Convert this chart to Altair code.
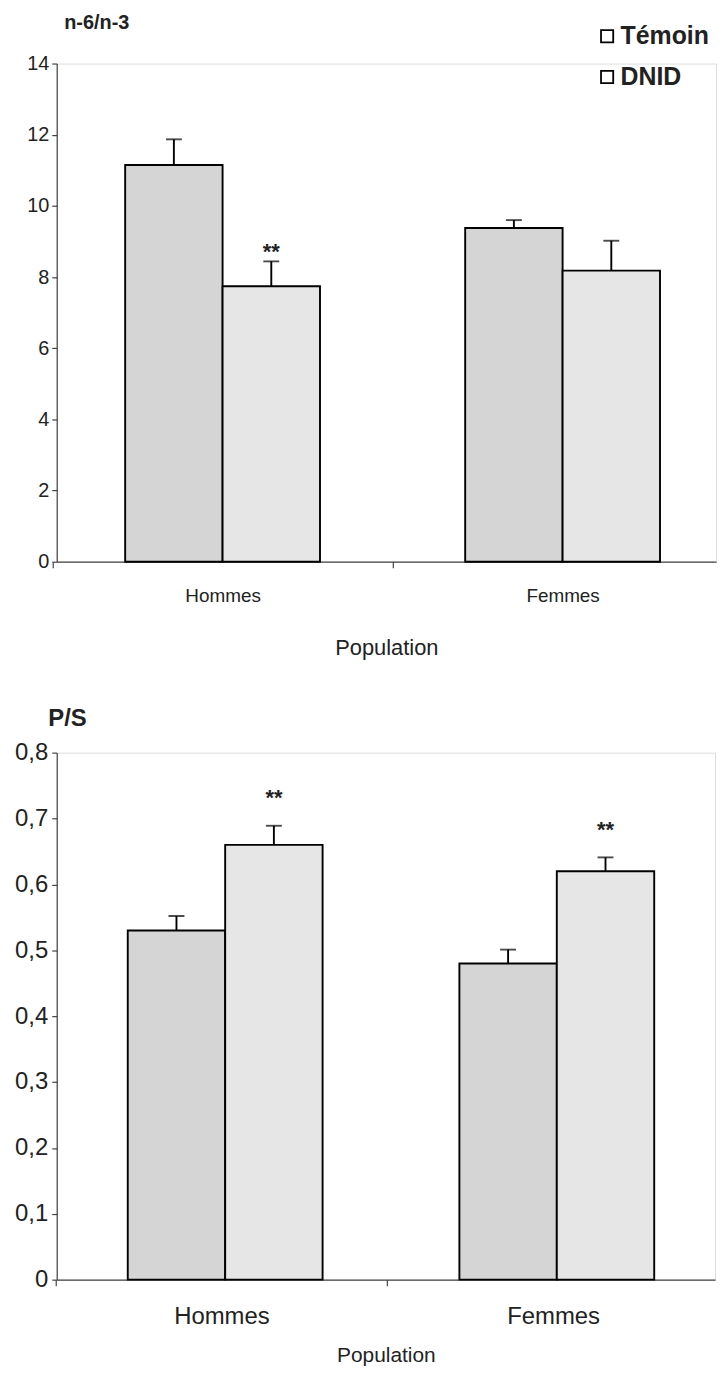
import altair as alt
import pandas as pd

populations = ["Hommes", "Femmes"]
groups = ["Témoin", "DNID"]

# n-6/n-3 ratio
n6n3_temoin = [11.15, 9.38]
n6n3_dnid = [7.74, 8.18]
n6n3_err_temoin = [0.72, 0.22]
n6n3_err_dnid = [0.70, 0.84]
n6n3_stars_dnid = ["**", ""]

# P/S ratio
ps_temoin = [0.53, 0.48]
ps_dnid = [0.66, 0.62]
ps_err_temoin = [0.022, 0.021]
ps_err_dnid = [0.029, 0.021]
ps_stars_dnid = ["**", "**"]

FONT = "Liberation Sans"
COLORS = ["#d5d5d5", "#e6e6e6"]


def make_df(t, d, et, ed, stars):
    rows = []
    for i, p in enumerate(populations):
        rows.append({"Population": p, "Groupe": "Témoin", "serie": "Témoin",
                     "mean": t[i], "hi": t[i] + et[i], "star": ""})
        rows.append({"Population": p, "Groupe": "DNID", "serie": "DNID",
                     "mean": d[i], "hi": d[i] + ed[i], "star": stars[i]})
    return pd.DataFrame(rows)


def panel(df, width, height, ymax, ystep, title, title_x, title_y, title_size,
          ylab_size, xlab_size, label_expr, star_dy, show_legend, cap_w,
          p_inner, p_outer, align, xlab_pad, xtitle_size, xtitle_pad, ylab_pad):
    step = width / (2 - p_inner + 2 * p_outer)
    x = alt.X(
        "Population:N", sort=populations,
        scale=alt.Scale(paddingInner=p_inner, paddingOuter=p_outer, align=align),
        axis=alt.Axis(title="Population", labelAngle=0, labelFontSize=xlab_size,
                      labelFont=FONT, labelColor="#222", labelPadding=xlab_pad,
                      titleFont=FONT, titleFontSize=xtitle_size, titleFontWeight="normal",
                      titleColor="#222", titlePadding=xtitle_pad,
                      tickOffset=-step / 2.0, labelOffset=step / 2.0,
                      tickSize=6, tickColor="#444", domainColor="#444",
                      domainWidth=1.2, tickWidth=1.2),
    )
    xo = alt.XOffset("Groupe:N", sort=groups, scale=alt.Scale(paddingInner=0))
    y = alt.Y(
        "mean:Q",
        scale=alt.Scale(domain=[0, ymax], nice=False, zero=True),
        axis=alt.Axis(title=title, titleAngle=0, titleAlign="left",
                      titleBaseline="middle", titleX=title_x, titleY=title_y,
                      titleFont=FONT, titleFontSize=title_size, titleFontWeight="bold",
                      titleColor="#222",
                      values=[round(i * ystep, 3) for i in range(int(round(ymax / ystep)) + 1)],
                      labelExpr=label_expr, labelFont=FONT, labelFontSize=ylab_size,
                      labelColor="#222", labelPadding=ylab_pad,
                      tickSize=5, tickColor="#444", domainColor="#444",
                      domainWidth=1.2, tickWidth=1.2, grid=False),
    )
    if show_legend:
        legend = alt.Legend(
            title=None, orient="none", legendX=width - 122, legendY=-40,
            symbolType="square", symbolSize=150, symbolStrokeWidth=1.8,
            symbolFillColor="white", symbolStrokeColor="black",
            labelFont=FONT, labelFontSize=25, labelColor="#222",
            labelFontWeight="bold", rowPadding=15, labelOffset=1,
        )
    else:
        legend = None
    fill = alt.Fill("serie:N", sort=groups,
                    scale=alt.Scale(range=COLORS), legend=None)
    stroke = alt.Stroke("Groupe:N", sort=groups,
                        scale=alt.Scale(domain=groups, range=["black", "black"]),
                        legend=legend)

    base = alt.Chart(df)
    bars = base.mark_bar(strokeWidth=1.9).encode(
        x=x, xOffset=xo, y=y, fill=fill, stroke=stroke)
    rules = base.mark_rule(color="black", strokeWidth=1.9).encode(
        x=x, xOffset=xo, y=alt.Y("mean:Q"), y2="hi:Q")
    caps = base.mark_tick(color="black", thickness=1.9, size=cap_w).encode(
        x=x, xOffset=xo, y=alt.Y("hi:Q"))
    stars = base.mark_text(font=FONT, fontSize=22, fontWeight="bold",
                           color="#222", dy=star_dy).encode(
        x=x, xOffset=xo, y=alt.Y("hi:Q"), text="star:N")
    return alt.layer(bars, rules, caps, stars).properties(width=width, height=height)


df1 = make_df(n6n3_temoin, n6n3_dnid, n6n3_err_temoin, n6n3_err_dnid, n6n3_stars_dnid)
df2 = make_df(ps_temoin, ps_dnid, ps_err_temoin, ps_err_dnid, ps_stars_dnid)

top = panel(df1, 663, 501, 14, 2, "n-6/n-3", 7, -41, 20, 20, 19,
            "datum.value", -9, True, 16,
            0.427, 0.183, 0.55, 19, 22, 32, 3)
bottom = panel(df2, 662, 530, 0.8, 0.1, "P/S", -9, -34, 24, 24, 24,
               "datum.value == 0 ? '0' : replace(format(datum.value, '.1f'), '.', ',')",
               -28, False, 16,
               0.435, 0.210, 0.51, 19, 21, 16, 4)

chart = alt.vconcat(top, bottom, spacing=47).resolve_legend(
    stroke="independent").resolve_scale(stroke="independent", fill="independent").properties(
    padding={"left": 6, "top": 0, "right": 0, "bottom": 0}
).configure_view(strokeWidth=0).configure(background="white")

chart.save("out.html", embed_options={"renderer": "svg", "actions": False})
